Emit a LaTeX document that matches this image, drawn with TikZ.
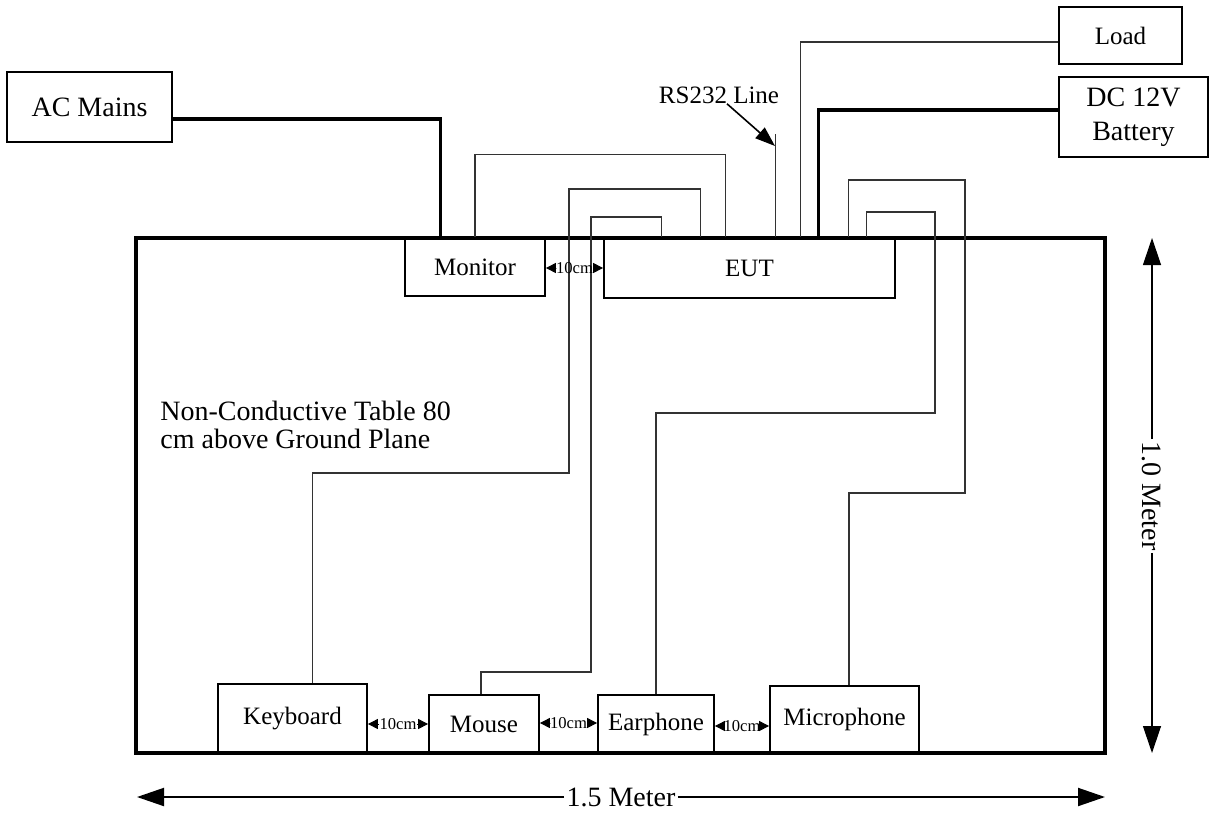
\documentclass[tikz,border=0pt]{standalone}
\usepackage{fontspec}
\setmainfont{Liberation Serif}
\usetikzlibrary{arrows.meta}

\tikzset{
  dev/.style={draw, line width=0.9pt, fill=white, inner sep=0pt, font=\fontsize{12.5}{15}\selectfont},
  bigtext/.style={font=\fontsize{14}{17}\selectfont},
  cable/.style={black!80, line width=0.55pt},
  power/.style={line width=1.6pt},
  gap/.style={font=\fontsize{8.3}{10}\selectfont, inner sep=0pt},
  gaparrow/.style={-{Triangle[length=5pt,width=5pt]}, line width=0.5pt},
  dim/.style={-{Triangle[length=13.5pt,width=9pt]}},
}

\begin{document}
\begin{tikzpicture}[x=0.5pt,y=-0.5pt]
  \useasboundingbox (0,0) rectangle (1216,814);

  %supplies and load
  \node[dev, bigtext, minimum width=82.5pt, minimum height=35pt] (acm) at (89.5,107) {AC Mains};
  \node[dev, minimum width=61.5pt, minimum height=28.5pt] (load) at (1120.5,35.5) {Load};
  \node[dev, bigtext, align=center, minimum width=74.5pt, minimum height=40pt] (dcb) at (1133.5,117) {DC 12V\\Battery};

  %units on the table
  \node[dev, minimum width=70pt, minimum height=29pt] (mon) at (475,267) {Monitor};
  \node[dev, minimum width=145.5pt, minimum height=30pt] (eut) at (749.5,268) {EUT};
  \node[dev, minimum width=74.5pt, minimum height=34.5pt] (kbd) at (292.5,718.5) {Keyboard};
  \node[dev, minimum width=55pt, minimum height=29pt] (mouse) at (484,724) {Mouse};
  \node[dev, minimum width=58pt, minimum height=29pt] (earph) at (656,724) {Earphone};
  \node[dev, minimum width=74.5pt, minimum height=33.5pt] (micro) at (844.5,719.5) {Microphone};

  %table
  \node[draw, line width=1.8pt, minimum width=484.5pt, minimum height=257.5pt] (table) at (620.5,495.5) {};
  \node[anchor=north west, align=left, inner sep=0pt, font=\fontsize{14}{14}\selectfont] (tabtxt) at (160,401)
    {Non-Conductive Table 80\\cm above Ground Plane};

  %power lines
  \draw[power] ([yshift=-6pt]acm.east) -| ([xshift=18pt]mon.north west);
  \draw[power] ([yshift=3.5pt]dcb.west) -| ([xshift=107.5pt]eut.north west);
  \draw[cable] ([yshift=-3.25pt]load.west) -| ([xshift=98.5pt]eut.north west);

  %RS232
  \draw[cable] ([xshift=86pt]eut.north west) -- ++(0,-103) coordinate (rstop);
  \node[inner sep=0pt, font=\fontsize{12.5}{15}\selectfont] (rslbl) at (719,95) {RS232 Line};
  \coordinate (rstip) at (775,146);
  \draw[-{Triangle[length=10pt,width=7pt]}, line width=0.8pt] ([xshift=4pt]rslbl.south) -- (rstip);

  %cables to the EUT
  \draw[cable] (mon.north) -- ++(0,-83) -| ([xshift=61pt]eut.north west);
  \draw[cable] ([xshift=10pt]kbd.north) |- (569,473) -- (569,189) -| ([xshift=48.5pt]eut.north west);
  \draw[cable] ([xshift=-1.5pt]mouse.north) |- (591,672) -- (591,217) -| ([xshift=29pt]eut.north west);
  \draw[cable] (earph.north) |- (935,413) -- (935,212) -| ([xshift=131.5pt]eut.north west);
  \draw[cable] ([xshift=2.25pt]micro.north) |- (965,493) -- (965,180) -| ([xshift=122.5pt]eut.north west);

  %10 cm spacings
  \node[gap] (g0) at (574.5,268) {10cm};
  \draw[gaparrow] (g0.west) -- (mon.east |- g0);
  \draw[gaparrow] (g0.east) -- (eut.west |- g0);
  \node[gap] (g1) at (398,724) {10cm};
  \draw[gaparrow] (g1.west) -- (kbd.east |- g1);
  \draw[gaparrow] (g1.east) -- (mouse.west |- g1);
  \node[gap] (g2) at (568.5,723) {10cm};
  \draw[gaparrow] (g2.west) -- (mouse.east |- g2);
  \draw[gaparrow] (g2.east) -- (earph.west |- g2);
  \node[gap] (g3) at (742,726) {10cm};
  \draw[gaparrow] (g3.west) -- (earph.east |- g3);
  \draw[gaparrow] (g3.east) -- (micro.west |- g3);

  %table size
  \node[bigtext, inner sep=1pt] (wlbl) at (621,797) {1.5 Meter};
  \coordinate (wl) at (137,797);
  \coordinate (wr) at (1105,797);
  \draw[dim, line width=1pt] (wlbl.west) -- (wl);
  \draw[dim, line width=1pt] (wlbl.east) -- (wr);
  \node[bigtext, inner sep=1pt, rotate=-90] (hlbl) at (1152,496) {1.0 Meter};
  \coordinate (ht) at (1152,238);
  \coordinate (hb) at (1152,753);
  \draw[dim, line width=0.6pt] (hlbl.west) -- (ht);
  \draw[dim, line width=0.6pt] (hlbl.east) -- (hb);
\end{tikzpicture}
\end{document}
